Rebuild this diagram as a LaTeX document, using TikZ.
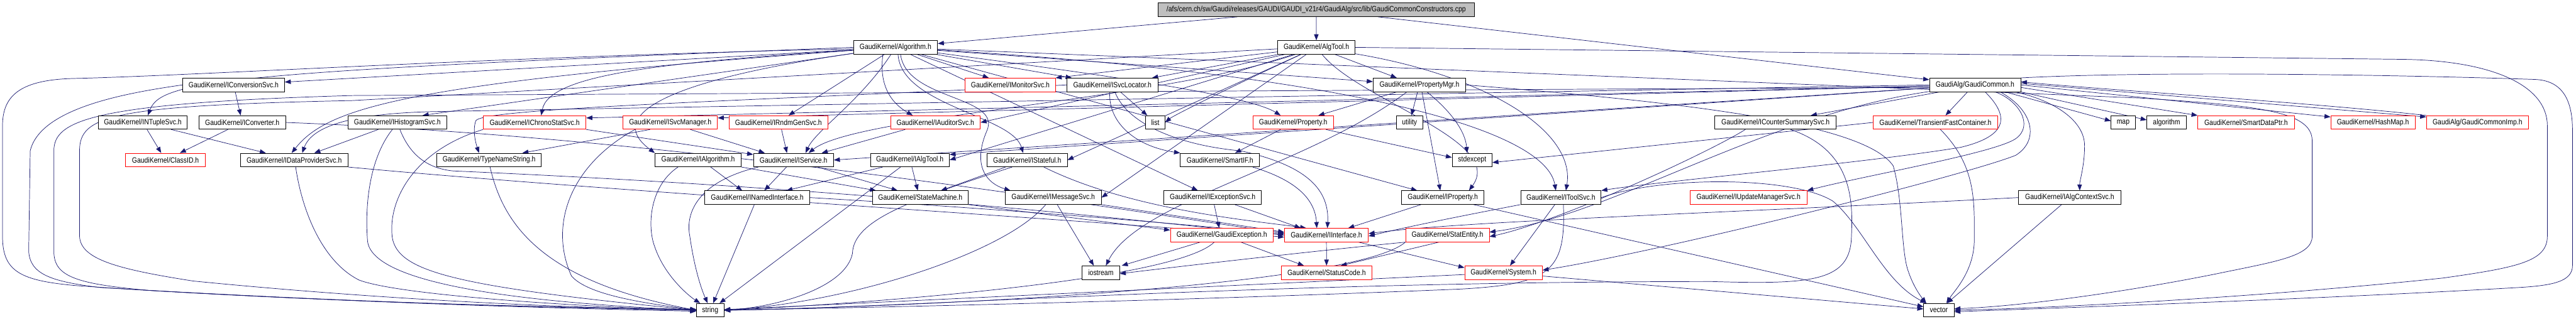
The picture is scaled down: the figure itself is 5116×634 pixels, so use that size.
\documentclass[tikz,border=0pt]{standalone}
\usepackage{fontspec}
\newfontfamily\dxfont{Liberation Sans}[FakeStretch=0.86]
\usetikzlibrary{arrows.meta,backgrounds}
\definecolor{edgeblue}{HTML}{191970}
\definecolor{topgray}{HTML}{BFBFBF}
\tikzset{
  nd/.style={draw=black,fill=white,line width=1pt,minimum height=27pt,inner sep=0pt,font=\dxfont\fontsize{15.2}{16}\selectfont},
  rd/.style={nd,draw=red},
  lnk/.style={draw=edgeblue,line width=0.9pt,-{Triangle[length=12pt,width=9pt]}},
}
\begin{document}
\begin{tikzpicture}[x=1pt,y=-1pt]
\useasboundingbox (0,0) rectangle (5116,634);
% row 0
\node[nd,fill=topgray,minimum width=628pt] (top) at (2614,19.5) {/afs/cern.ch/sw/Gaudi/releases/GAUDI/GAUDI\_v21r4/GaudiAlg/src/lib/GaudiCommonConstructors.cpp};
% row 1
\node[nd,minimum width=167pt] (alg) at (1778.5,94.2) {GaudiKernel/Algorithm.h};
\node[nd,minimum width=153.5pt] (algtool) at (2614.3,94.2) {GaudiKernel/AlgTool.h};
% row 2
\node[nd,minimum width=202pt] (iconvsvc) at (464,168.9) {GaudiKernel/IConversionSvc.h};
\node[rd,minimum width=179pt] (imonsvc) at (2006.5,168.9) {GaudiKernel/IMonitorSvc.h};
\node[nd,minimum width=180.4pt] (isvcloc) at (2209.2,168.9) {GaudiKernel/ISvcLocator.h};
\node[nd,minimum width=184pt] (propmgr) at (2819,168.9) {GaudiKernel/PropertyMgr.h};
\node[nd,minimum width=181pt] (gcommon) at (3922.5,168.9) {GaudiAlg/GaudiCommon.h};
% row 3
\node[nd,minimum width=176.7pt] (intuple) at (283.6,243.6) {GaudiKernel/INTupleSvc.h};
\node[nd,minimum width=172.3pt] (iconverter) at (481.2,243.6) {GaudiKernel/IConverter.h};
\node[nd,minimum width=196.1pt] (ihisto) at (789.2,243.6) {GaudiKernel/IHistogramSvc.h};
\node[rd,minimum width=204.1pt] (ichrono) at (1061.8,243.6) {GaudiKernel/IChronoStatSvc.h};
\node[rd,minimum width=187.6pt] (isvcmgr) at (1331.1,243.6) {GaudiKernel/ISvcManager.h};
\node[rd,minimum width=196.4pt] (irndm) at (1546.1,243.6) {GaudiKernel/IRndmGenSvc.h};
\node[rd,minimum width=178.2pt] (iauditor) at (1857.7,243.6) {GaudiKernel/IAuditorSvc.h};
\node[nd,minimum width=38pt] (list) at (2294.5,243.6) {list};
\node[rd,minimum width=160.1pt] (property) at (2568.3,243.6) {GaudiKernel/Property.h};
\node[nd,minimum width=52.1pt] (utility) at (2799.4,243.6) {utility};
\node[nd,minimum width=241.3pt] (icounter) at (3526.2,243.6) {GaudiKernel/ICounterSummarySvc.h};
\node[rd,minimum width=247.9pt] (transient) at (3843.8,243.6) {GaudiKernel/TransientFastContainer.h};
\node[nd,minimum width=47.7pt] (map) at (4216.6,243.6) {map};
\node[nd,minimum width=77.9pt] (algorithm) at (4302.8,243.6) {algorithm};
\node[rd,minimum width=191.6pt] (smartdataptr) at (4460.7,243.6) {GaudiKernel/SmartDataPtr.h};
\node[rd,minimum width=167.3pt] (hashmap) at (4712.6,243.6) {GaudiKernel/HashMap.h};
\node[rd,minimum width=202.7pt] (gcimp) at (4920.3,243.6) {GaudiAlg/GaudiCommonImp.h};
% row 4
\node[rd,minimum width=158pt] (classid) at (328.6,318.3) {GaudiKernel/ClassID.h};
\node[nd,minimum width=214pt] (idataprov) at (584.2,318.3) {GaudiKernel/IDataProviderSvc.h};
\node[nd,minimum width=207.3pt] (typename) at (971.3,318.3) {GaudiKernel/TypeNameString.h};
\node[nd,minimum width=171.1pt] (ialgorithm) at (1386.5,318.3) {GaudiKernel/IAlgorithm.h};
\node[nd,minimum width=159.1pt] (iservice) at (1575.9,318.3) {GaudiKernel/IService.h};
\node[nd,minimum width=156.7pt] (ialgtool) at (1807,318.3) {GaudiKernel/IAlgTool.h};
\node[nd,minimum width=159.2pt] (istateful) at (2040,318.3) {GaudiKernel/IStateful.h};
\node[nd,minimum width=157.3pt] (smartif) at (2422.9,318.3) {GaudiKernel/SmartIF.h};
\node[nd,minimum width=79.4pt] (stdexcept) at (2923.7,318.3) {stdexcept};
% row 5
\node[nd,minimum width=208.6pt] (inamed) at (1503.9,393) {GaudiKernel/INamedInterface.h};
\node[nd,minimum width=190.7pt] (statemachine) at (1827.7,393) {GaudiKernel/StateMachine.h};
\node[nd,minimum width=190.9pt] (imsgsvc) at (2091.7,393) {GaudiKernel/IMessageSvc.h};
\node[nd,minimum width=193.7pt] (iexcsvc) at (2408.4,393) {GaudiKernel/IExceptionSvc.h};
\node[nd,minimum width=163.8pt] (iproperty) at (2865.4,393) {GaudiKernel/IProperty.h};
\node[nd,minimum width=159.7pt] (itoolsvc) at (3099.9,393) {GaudiKernel/IToolSvc.h};
\node[rd,minimum width=232.3pt] (iupdmgr) at (3472.6,393) {GaudiKernel/IUpdateManagerSvc.h};
\node[nd,minimum width=202.9pt] (ialgctx) at (4110.4,393) {GaudiKernel/IAlgContextSvc.h};
% row 6
\node[rd,minimum width=204.2pt] (gexc) at (2426.5,467.7) {GaudiKernel/GaudiException.h};
\node[rd,minimum width=166.6pt] (iinterface) at (2634.2,467.7) {GaudiKernel/IInterface.h};
\node[rd,minimum width=166.1pt] (statentity) at (2874.6,467.7) {GaudiKernel/StatEntity.h};
% row 7
\node[nd,minimum width=74pt] (iostream) at (2186.3,542.4) {iostream};
\node[rd,minimum width=180.4pt] (statuscode) at (2634.6,542.4) {GaudiKernel/StatusCode.h};
\node[rd,minimum width=154.1pt] (system) at (2985.9,542.4) {GaudiKernel/System.h};
% row 8
\node[nd,minimum width=54.4pt] (string) at (1410.5,617.1) {string};
\node[nd,minimum width=60.5pt] (vector) at (3850.6,617.1) {vector};

\begin{scope}[on background layer]
\fill[white] (0,0) rectangle (5116,634);
% ---- top
\draw[lnk] (top) -- (alg);
\draw[lnk] (top) -- (algtool);
\draw[lnk] (top) -- (gcommon);
% ---- Algorithm.h
\draw[lnk] (alg) -- (iconvsvc);
\draw[lnk] (alg.west) .. controls (450,142) and (320,160) .. ([xshift=10pt]intuple.north);
\draw[lnk] ([yshift=-3pt]alg.west) .. controls (1000,112) and (400,150) .. (150,156) .. controls (40,158) and (5,190) .. (5,250) -- (5,470) .. controls (5,540) and (40,558) .. (150,568) .. controls (600,600) and (1100,612) .. ([yshift=2pt]string.west);
\draw[lnk] (alg) -- ([xshift=50pt]ihisto.north);
\draw[lnk] (alg) .. controls (800,165) and (650,215) .. ([xshift=-5pt]idataprov.north);
\draw[lnk] (alg) .. controls (1300,125) and (1090,150) .. ([xshift=13pt]ichrono.north);
\draw[lnk] (alg) -- ([xshift=20pt]irndm.north);
\draw[lnk] (alg) .. controls (1320,160) and (1200,230) .. (ialgorithm.north west);
\draw[lnk] (alg) .. controls (1710,200) and (1620,260) .. ([xshift=24pt]iservice.north);
\draw[lnk] (alg) -- (imonsvc);
\draw[lnk] (alg) -- (isvcloc);
\draw[lnk] ([xshift=-25pt]alg.south) .. controls (1745,170) and (1770,205) .. ([xshift=-45pt]iauditor.north);
\draw[lnk] ([xshift=5pt]alg.south) .. controls (1790,210) and (2010,230) .. ([xshift=-8pt]istateful.north);
\draw[lnk] ([xshift=10pt]alg.south) .. controls (1800,200) and (1990,190) .. (1960,260) .. controls (1930,330) and (1960,365) .. ([xshift=-85pt]imsgsvc.north);
\draw[lnk] (alg) -- (iexcsvc);
\draw[lnk] (alg) -- (propmgr);
\draw[lnk] (alg) .. controls (2200,150) and (2480,190) .. ([xshift=-25pt]property.north);
\draw[lnk] (alg) -- (iproperty);
\draw[lnk] (alg) .. controls (2700,150) and (3070,260) .. ([xshift=-10pt]itoolsvc.north);
\draw[lnk] (alg) -- (4250,195) .. controls (4480,210) and (4592,220) .. (4592,280) -- (4592,470) .. controls (4592,510) and (4520,520) .. (4400,545) .. controls (4200,585) and (4000,610) .. ([yshift=3pt]vector.east);
% ---- AlgTool.h
\draw[lnk] (algtool) -- (imonsvc.north east);
\draw[lnk] (algtool) -- ([xshift=-12pt]isvcloc.north east);
\draw[lnk] (algtool) -- (iauditor.east);
\draw[lnk] (algtool) .. controls (2450,170) and (2330,230) .. (list.east);
\draw[lnk] (algtool) -- (istateful.east);
\draw[lnk] (algtool) -- ([xshift=-45pt]propmgr.north);
\draw[lnk] (algtool) -- (ialgtool.east);
\draw[lnk] (algtool) .. controls (2700,200) and (2990,280) .. ([xshift=52pt]iproperty.north);
\draw[lnk] (algtool) .. controls (2950,150) and (3130,260) .. ([xshift=10pt]itoolsvc.north);
\draw[lnk] (algtool) .. controls (2300,200) and (1700,230) .. ([xshift=30pt]iservice.north);
\draw[lnk] (algtool) -- (imsgsvc.east);
\draw[lnk] (algtool.east) -- (4769,118) .. controls (4950,120) and (5059,170) .. (5059,250) -- (5059,470) .. controls (5059,520) and (5000,532) .. (4852,553) .. controls (4500,590) and (4100,612) .. (vector.east);
\draw[lnk] ([yshift=-3pt]algtool.west) -- (700,200) .. controls (220,210) and (158,230) .. (158,300) -- (158,470) .. controls (160,515) and (230,535) .. (384,559) .. controls (800,600) and (1150,612) .. (string.west);
% ---- GaudiCommon.h
\draw[lnk] ([yshift=-5pt]gcommon.west) -- (700,190) .. controls (180,205) and (107,240) .. (107,300) -- (107,500) .. controls (107,550) and (150,565) .. (300,578) .. controls (800,606) and (1150,614) .. ([yshift=-2pt]string.west);
\draw[lnk] (gcommon) -- ([yshift=-5pt]ichrono.north east);
\draw[lnk] (gcommon) -- ([yshift=-5pt]isvcmgr.north east);
\draw[lnk] (gcommon) -- (iservice.east);
\draw[lnk] (gcommon) -- ([yshift=-3pt]ialgtool.north east);
\draw[lnk] (gcommon.west) -- (860,222) .. controls (700,226) and (620,250) .. ([xshift=16pt]idataprov.north);
\draw[lnk] ([xshift=20pt]gcommon.south) .. controls (3990,230) and (3990,270) .. (3894,293) .. controls (3700,325) and (3300,360) .. (itoolsvc.north east);
\draw[lnk] ([xshift=40pt]gcommon.south) .. controls (4010,200) and (4040,250) .. (4003,276) .. controls (3960,305) and (3700,350) .. (iupdmgr.north east);
\draw[lnk] ([xshift=-70pt]gcommon.south) -- ([xshift=70pt]icounter.north);
\draw[lnk] ([xshift=-15pt]gcommon.south) -- ([xshift=20pt]transient.north);
\draw[lnk] ([xshift=60pt]gcommon.south) -- ([yshift=3pt]map.west);
\draw[lnk] (gcommon.south east) -- ([yshift=5pt]algorithm.west);
\draw[lnk] ([yshift=-5pt]gcommon.east) -- (smartdataptr.north west);
\draw[lnk] (gcommon.east) -- ([yshift=-3pt]hashmap.north west);
\draw[lnk] ([yshift=3pt]gcommon.east) -- ([yshift=-3pt]gcimp.north west);
\draw[lnk] ([xshift=80pt]gcommon.south) .. controls (4080,200) and (4140,240) .. (4140,290) .. controls (4140,330) and (4130,360) .. ([xshift=20pt]ialgctx.north);
\draw[lnk] (gcommon) .. controls (3500,230) and (3200,430) .. ([yshift=6pt]statentity.east);
\draw[lnk] ([xshift=50pt]gcommon.south) .. controls (4040,220) and (4050,280) .. (4003,309) .. controls (3900,350) and (3300,500) .. ([yshift=5pt]system.east);
\draw[lnk] (gcommon.north east) .. controls (4300,140) and (4800,150) .. (5034,158) .. controls (5090,160) and (5109,200) .. (5109,260) -- (5109,528) .. controls (5109,560) and (5070,568) .. (5000,572) .. controls (4600,595) and (4100,612) .. ([yshift=-3pt]vector.east);
\draw[lnk] (gcimp.north west) .. controls (4600,205) and (4200,180) .. ([yshift=6pt]gcommon.east);
% ---- row 2/3 sources
\draw[lnk] (iconvsvc) -- (iconverter);
\draw[lnk] (iconvsvc.west) .. controls (250,185) and (80,215) .. (60,300) -- (57,500) .. controls (60,545) and (100,560) .. (200,572) .. controls (700,602) and (1100,612) .. (string.west);
\draw[lnk] (intuple) -- (classid);
\draw[lnk] (intuple) -- (idataprov);
\draw[lnk] (iconverter) -- (classid);
\draw[lnk] (iconverter.east) .. controls (1400,275) and (2300,430) .. ([yshift=4pt]iinterface.west);
\draw[lnk] (ihisto) -- ([xshift=40pt]idataprov.north);
\draw[lnk] ([xshift=-10pt]ihisto.south) .. controls (730,320) and (725,420) .. (730,480) .. controls (740,560) and (1000,600) .. (string.west);
\draw[lnk] ([xshift=5pt]ihisto.south) .. controls (815,310) and (850,335) .. (900,340) .. controls (1800,380) and (2300,445) .. (iinterface.west);
\draw[lnk] ([xshift=3pt]idataprov.south) .. controls (600,420) and (640,520) .. (713,557) .. controls (800,590) and (1200,612) .. (string.west);
\draw[lnk] (idataprov.south east) .. controls (1200,380) and (2200,440) .. ([yshift=-4pt]iinterface.west);
\draw[lnk] (ichrono.south east) -- ([yshift=-3pt]iservice.north west);
\draw[lnk] (ichrono.south west) .. controls (820,300) and (770,400) .. (779,472) .. controls (790,540) and (900,570) .. (string.west);
\draw[lnk] ([xshift=-40pt]isvcmgr.south) -- ([xshift=-38pt]typename.north east);
\draw[lnk] ([xshift=40pt]isvcmgr.south) -- ([xshift=-57pt]iservice.north);
\draw[lnk] ([xshift=-70pt]isvcmgr.south) .. controls (1130,330) and (1090,450) .. (1135,549) .. controls (1170,590) and (1300,605) .. (string.west);
\draw[lnk] ([xshift=6pt]irndm.south) -- ([xshift=-13pt]iservice.north);
\draw[lnk] ([xshift=-60pt]iauditor.south) -- ([xshift=56pt]iservice.north);
\draw[lnk] ([xshift=2pt]typename.south) .. controls (1000,450) and (1080,560) .. (string.west);
\draw[lnk] (isvcloc) -- (list);
\draw[lnk] ([xshift=-5pt]isvcloc.south) .. controls (2200,240) and (2250,290) .. (smartif.north west);
\draw[lnk] (isvcloc.west) .. controls (1500,200) and (960,215) .. (945,240) .. controls (938,260) and (945,285) .. ([xshift=-20pt]typename.north);
\draw[lnk] ([xshift=5pt]isvcloc.south) .. controls (2240,250) and (2350,290) .. (2464,300) .. controls (2600,330) and (2640,380) .. ([xshift=2pt]iinterface.north);
\draw[lnk] ([xshift=-25pt]property.south) -- ([xshift=30pt]smartif.north);
\draw[lnk] ([xshift=65pt]property.south) -- ([yshift=5pt]stdexcept.west);
\draw[lnk] ([xshift=-45pt]propmgr.south) -- ([xshift=50pt]property.north);
\draw[lnk] (propmgr) -- (utility);
\draw[lnk] ([xshift=15pt]propmgr.south) .. controls (2880,220) and (2910,260) .. ([xshift=-10pt]stdexcept.north);
\draw[lnk] ([xshift=5pt]propmgr.south) -- ([xshift=-5pt]iproperty.north);
\draw[lnk] ([xshift=-25pt]propmgr.south) .. controls (2600,330) and (2260,400) .. ([xshift=10pt]iostream.north);
\draw[lnk] (propmgr.east) .. controls (3300,200) and (3700,240) .. (3760,330) .. controls (3780,400) and (3775,500) .. (3790,540) .. controls (3800,570) and (3815,590) .. ([xshift=-25pt]vector.north);
\draw[lnk] ([xshift=-60pt]icounter.south) .. controls (3400,300) and (3100,440) .. ([yshift=-3pt]statentity.east);
\draw[lnk] ([xshift=30pt]icounter.south) .. controls (3680,300) and (3680,400) .. (3677,470) .. controls (3675,560) and (3600,566) .. (3400,560) .. controls (2500,560) and (1800,612) .. (string.east);
\draw[lnk] ([xshift=10pt]transient.south) .. controls (3925,330) and (3921,400) .. (3921,476) .. controls (3921,540) and (3880,580) .. ([xshift=15pt]vector.north);
\draw[lnk] (transient.west) -- ([yshift=-5pt]stdexcept.east);
% ---- row 4/5 sources
\draw[lnk] ([xshift=25pt]ialgorithm.south) -- ([xshift=-30pt]inamed.north);
\draw[lnk] (ialgorithm.south east) -- ([xshift=8pt]statemachine.north west);
\draw[lnk] ([xshift=-40pt]ialgorithm.south) .. controls (1290,370) and (1285,450) .. (1300,490) .. controls (1320,550) and (1370,590) .. ([xshift=-20pt]string.north);
\draw[lnk] ([xshift=-14pt]iservice.south) -- ([xshift=14pt]inamed.north);
\draw[lnk] ([xshift=48pt]iservice.south) -- ([xshift=-45pt]statemachine.north);
\draw[lnk] ([xshift=-70pt]iservice.south) .. controls (1390,360) and (1360,420) .. (1370,470) .. controls (1380,540) and (1395,580) .. ([xshift=-5pt]string.north);
\draw[lnk] ([xshift=-54pt]ialgtool.south) -- ([xshift=58pt]inamed.north);
\draw[lnk] ([xshift=4pt]ialgtool.south) -- ([xshift=-5pt]statemachine.north);
\draw[lnk] (ialgtool) -- (string);
\draw[lnk] ([xshift=-43pt]istateful.south) -- ([xshift=41pt]statemachine.north);
\draw[lnk] ([xshift=33pt]istateful.south) .. controls (2250,420) and (2500,440) .. ([xshift=-40pt]iinterface.north);
\draw[lnk] ([xshift=-30pt]istateful.south) .. controls (1800,400) and (1695,440) .. (1693,504) .. controls (1680,570) and (1550,610) .. (string.east);
\draw[lnk] ([xshift=65pt]smartif.south) .. controls (2580,360) and (2612,400) .. ([xshift=-19pt]iinterface.north);
\draw[lnk] (statemachine.south east) -- ([yshift=-4pt]gexc.north west);
\draw[lnk] (inamed.east) .. controls (1900,410) and (2300,440) .. ([yshift=2pt]iinterface.west);
\draw[lnk] (inamed) -- (string);
\draw[lnk] ([xshift=8pt]imsgsvc.south) -- ([xshift=-14pt]iostream.north);
\draw[lnk] (imsgsvc.south east) -- ([yshift=6pt]iinterface.west);
\draw[lnk] ([xshift=-15pt]imsgsvc.south) .. controls (2000,500) and (1700,600) .. (string.east);
\draw[lnk] ([xshift=3pt]iexcsvc.south) -- ([xshift=-5pt]gexc.north);
\draw[lnk] ([xshift=44pt]iexcsvc.south) -- ([xshift=-51pt]iinterface.north);
\draw[lnk] (iproperty) -- (iinterface);
\draw[lnk] (iproperty) -- (vector);
\draw[lnk] ([xshift=-12pt]itoolsvc.south) -- ([xshift=13pt]system.north);
\draw[lnk] (itoolsvc.south west) .. controls (2900,430) and (2800,450) .. ([yshift=-2pt]iinterface.east);
\draw[lnk] ([xshift=5pt]itoolsvc.south) .. controls (3110,540) and (3080,565) .. (2900,575) .. controls (2300,600) and (1700,612) .. (string.east);
\draw[lnk] (itoolsvc.east) .. controls (3300,350) and (3560,350) .. (3640,400) .. controls (3700,450) and (3740,560) .. ([xshift=-25pt]vector.north);
\draw[lnk] (ialgctx) -- (vector);
\draw[lnk] (ialgctx.west) .. controls (3400,425) and (2900,440) .. ([yshift=3pt]iinterface.east);
% ---- row 6/7 sources
\draw[lnk] ([xshift=38pt]gexc.south) -- ([xshift=-45pt]statuscode.north);
\draw[lnk] ([xshift=-43pt]gexc.south) -- ([xshift=4pt]iostream.north east);
\draw[lnk] ([xshift=-15pt]gexc.south) .. controls (2330,560) and (1700,605) .. (string.east);
\draw[lnk] (iinterface) -- (statuscode);
\draw[lnk] ([xshift=64pt]iinterface.south) -- ([yshift=-4pt]system.north west);
\draw[lnk] ([xshift=-17pt]statentity.south) -- ([xshift=28pt]statuscode.north);
\draw[lnk] (statentity.south west) .. controls (2600,500) and (2300,535) .. ([yshift=-2pt]iostream.east);
\draw[lnk] (statentity.south west) .. controls (2700,560) and (2000,605) .. (string.east);
\draw[lnk] (system) -- (string);
\draw[lnk] (system) -- (vector);
\end{scope}
\end{tikzpicture}
\end{document}
